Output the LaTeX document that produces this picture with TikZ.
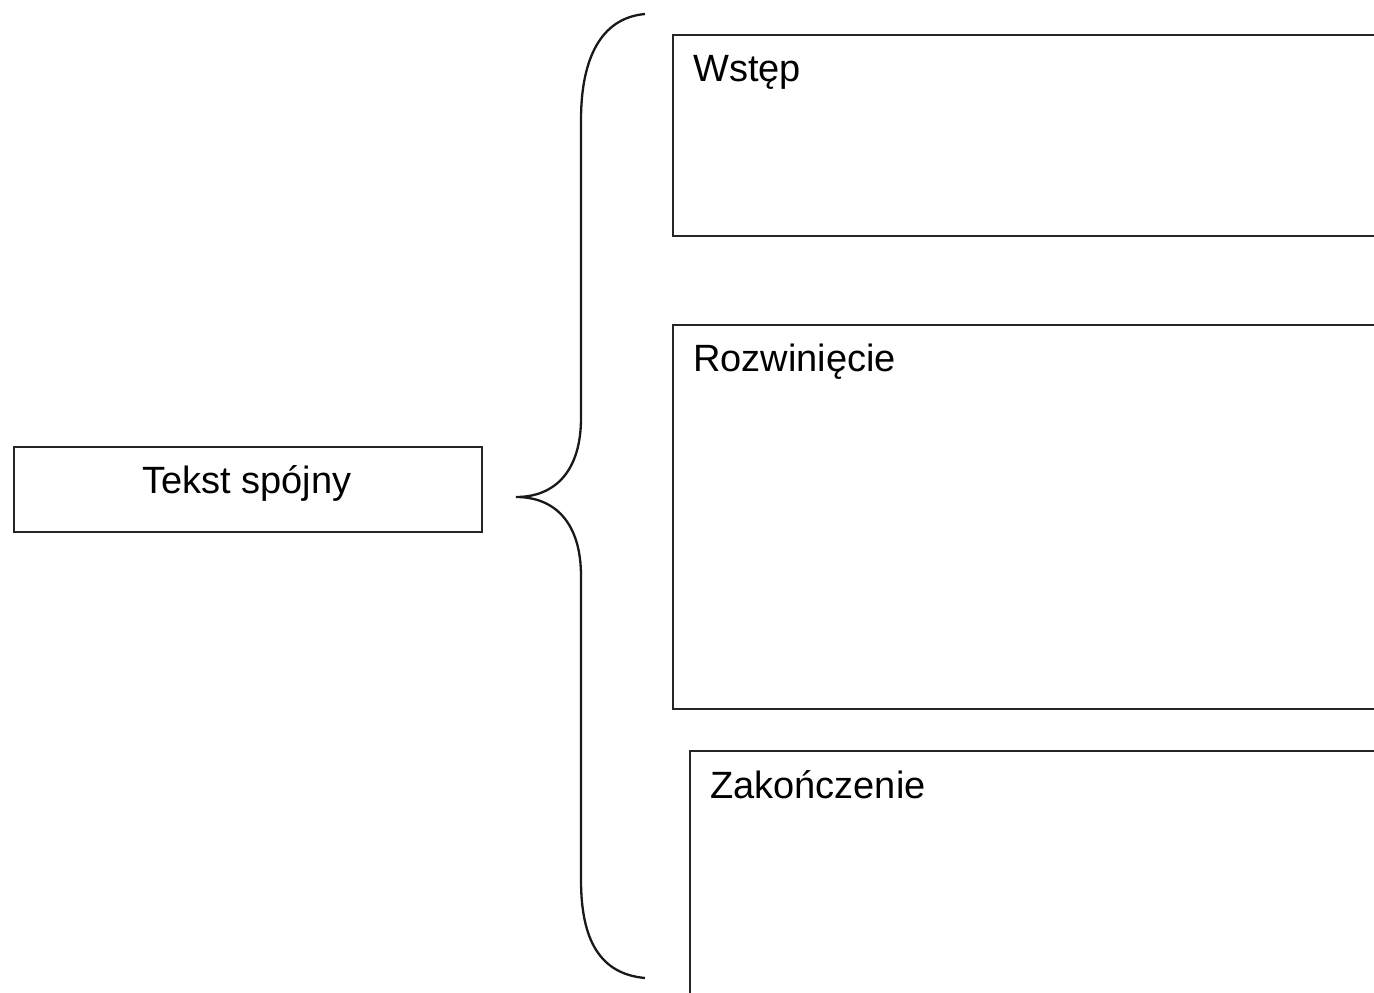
\documentclass[tikz,border=0pt]{standalone}
\usepackage{fontspec}
\setmainfont{Liberation Sans}
\begin{document}
\begin{tikzpicture}[x=1pt,y=-1pt,
  box/.style={draw=black!85, line width=1.8pt, inner sep=0pt, anchor=north west},
  lbl/.style={inner sep=0pt, font=\fontsize{38}{45}\selectfont, text=black},
  bracket/.style={draw=black!90, line width=2.3pt}]
\useasboundingbox (0,0) rectangle (1374,993);
\fill[white] (0,0) rectangle (1374,993);
\node[box, minimum width=468pt, minimum height=85pt] (main) at (13,446) {};
\node[lbl, anchor=base] (maint) at (247,493) {Tekst spójny};
\node[box, minimum width=760pt, minimum height=201pt] (b1) at (672,34) {};
\node[lbl, anchor=base west] (t1) at (693,81) {Wstęp};
\node[box, minimum width=760pt, minimum height=384pt] (b2) at (672,324) {};
\node[lbl, anchor=base west] (t2) at (693,371) {Rozwinięcie};
\node[box, minimum width=760pt, minimum height=300pt] (b3) at (689,750) {};
\node[lbl, anchor=base west] (t3) at (710,798) {Zakończenie};
\coordinate (top) at (645,14);
\coordinate (tip) at (516,497);
\coordinate (bot) at (645,978);
\draw[bracket] (top) .. controls (600,18) and (581,60) .. (581,120) -- (581,418)
  .. controls (581,470) and (556,497) .. (tip)
  .. controls (556,497) and (581,524) .. (581,576) -- (581,880)
  .. controls (581,940) and (600,974) .. (bot);
\end{tikzpicture}
\end{document}
